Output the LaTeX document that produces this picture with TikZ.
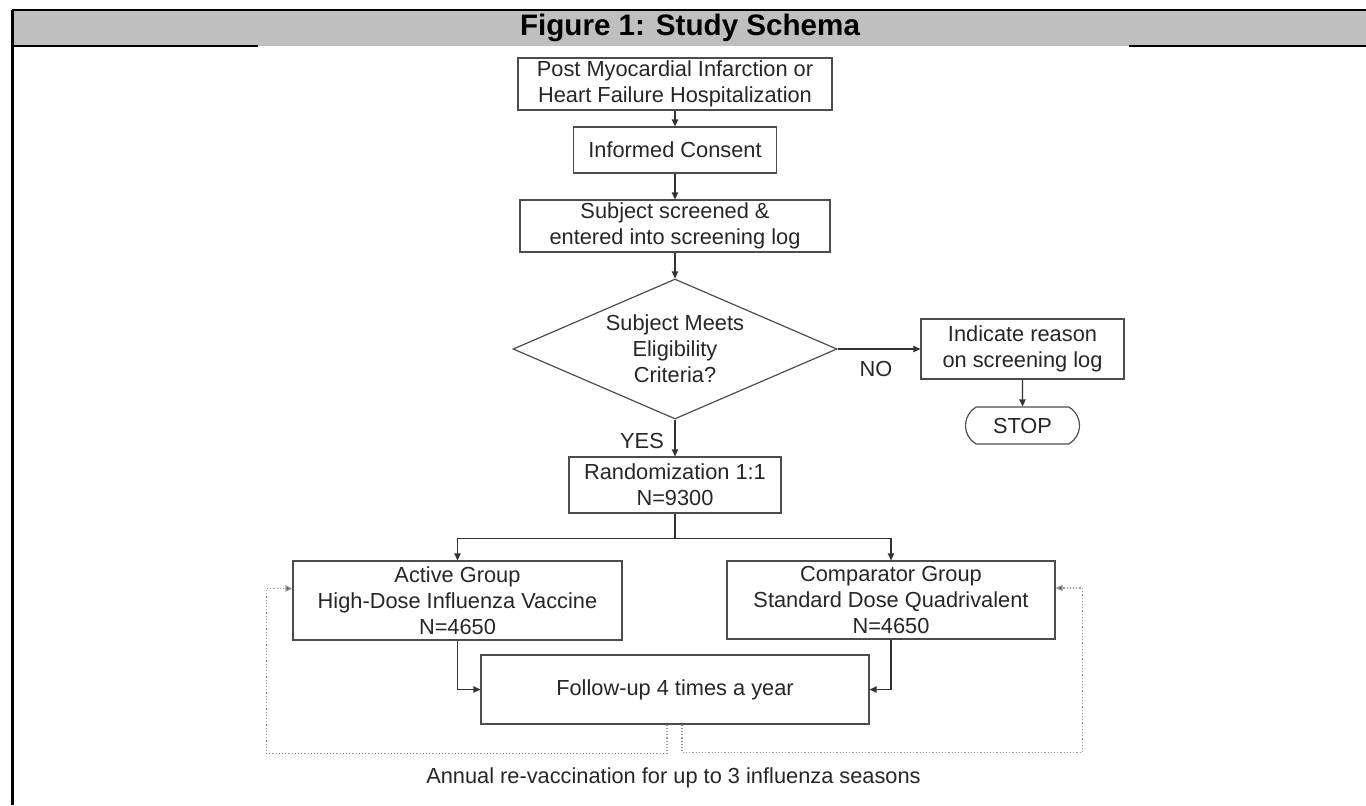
\documentclass[tikz,border=0pt]{standalone}
\usepackage{fontspec}
\setmainfont{Liberation Sans}
\usetikzlibrary{arrows.meta,shapes.geometric,shapes.misc}

\begin{document}
\begin{tikzpicture}[x=0.5pt,y=-0.5pt]
                \tikzset{box/.style={draw=black!70, line width=0.6pt, align=center, inner sep=0pt,
                text=black!85, font=\fontsize{10.9}{13}\selectfont},
                 lbl/.style={inner sep=0pt, text=black!85, font=\fontsize{10.9}{13}\selectfont},
                 flow/.style={draw=black!80, line width=0.6pt, -{Triangle[length=3.5pt,width=3.2pt]}},
                 loopback/.style={draw=black!40, line width=0.6pt, densely dotted,
                 -{Triangle[length=3.5pt,width=3.2pt,fill=black!70]}}}

                \useasboundingbox (0,0) rectangle (1366,805);

                \fill[black!25] (12,10) rectangle (1366,46);
                \draw[line width=1pt] (12,10) -- (1366,10);
                \draw[line width=1.5pt] (12,10) -- (12,805);
                \draw[line width=1pt] (12,46) -- (258,46);
                \draw[line width=1pt] (1129,46) -- (1366,46);
                \node[inner sep=0pt, font=\bfseries\fontsize{14.8}{17}\selectfont] (title) at (690,28) {Figure 1: Study Schema};

                \node[box, minimum width=157pt, minimum height=26pt] (post) at (675,84) {Post Myocardial Infarction or\\Heart Failure Hospitalization};
                \node[box, minimum width=101.5pt, minimum height=23pt] (consent) at (675,150) {Informed Consent};
                \node[box, minimum width=155pt, minimum height=26pt] (screen) at (675,226) {Subject screened \&\\entered into screening log};
                \node[box, diamond, aspect=2.3, minimum width=162pt, minimum height=70pt] (elig) at (675,349) {Subject Meets\\Eligibility\\Criteria?};
                \node[box, minimum width=101.5pt, minimum height=30pt] (reason) at (1022.5,349) {Indicate reason\\on screening log};
                \node[box, rounded rectangle, rounded rectangle arc length=120, minimum width=57pt, minimum height=18.5pt] (stop) at (1022.5,425.5) {STOP};
                \node[box, minimum width=106pt, minimum height=28pt] (rand) at (675,485) {Randomization 1:1\\N=9300};
                \node[box, minimum width=164.5pt, minimum height=39.5pt] (active) at (457.5,600.5) {Active Group\\High-Dose Influenza Vaccine\\N=4650};
                \node[box, minimum width=164pt, minimum height=39pt] (comp) at (891,600) {Comparator Group\\Standard Dose Quadrivalent\\N=4650};
                \node[box, minimum width=194pt, minimum height=34.5pt] (follow) at (675,689.5) {Follow-up 4 times a year};

                \node[lbl] (no) at (876,369) {NO};
                \node[lbl] (yes) at (642,441) {YES};
                \node[lbl] (annual) at (673.5,778) {Annual re-vaccination for up to 3 influenza seasons};

                \draw[flow] (post) -- (consent);
                \draw[flow] (consent) -- (screen);
                \draw[flow] (screen) -- (elig);
                \draw[flow] (elig.east) -- (reason.west);
                \draw[flow] (reason) -- (stop);
                \draw[flow] (elig.south) -- (rand.north);
                \draw[flow] (rand.south) -- ++(0,25) -| (active.north);
                \draw[flow] (rand.south) -- ++(0,25) -| (comp.north);
                \draw[flow] (active.south) |- (follow.west);
                \draw[flow] (comp.south) |- (follow.east);

                \draw[loopback] ([xshift=-4pt]follow.south) -- ++(0,29) -| ([xshift=-13pt,yshift=6pt]active.west) -- ([yshift=6pt]active.west);
                \draw[loopback] ([xshift=3.5pt]follow.south) -- ++(0,28) -| ([xshift=13.5pt,yshift=6pt]comp.east) -- ([yshift=6pt]comp.east);
\end{tikzpicture}
\end{document}
